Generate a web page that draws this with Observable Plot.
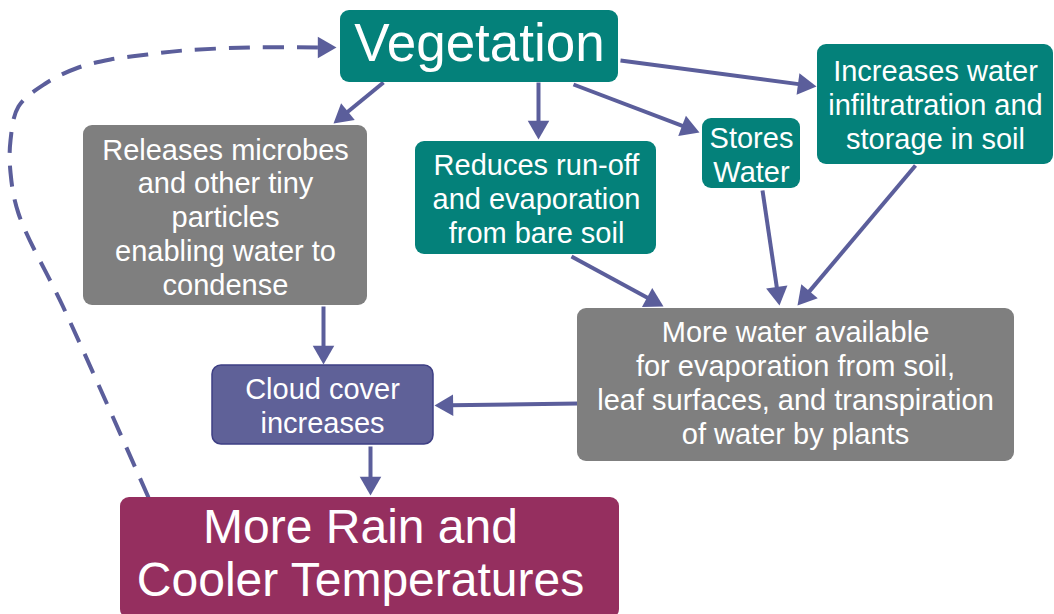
<!DOCTYPE html>
<html>
<head>
<meta charset="utf-8">
<script src="https://cdn.jsdelivr.net/npm/d3@7"></script>
<script src="https://cdn.jsdelivr.net/npm/@observablehq/plot@0.6"></script>
<style>
  html, body { margin: 0; padding: 0; background: #ffffff; }
</style>
</head>
<body>
<div id="chart"></div>
<script>
// ---- Diagram content ----
const nodeIds = ["veg", "microbes", "runoff", "stores", "infil", "morewater", "cloud", "rain"];
const nodeLabels = [
  "Vegetation",
  "Releases microbes\nand other tiny\nparticles\nenabling water to\ncondense",
  "Reduces run-off\nand evaporation\nfrom bare soil",
  "Stores\nWater",
  "Increases water\ninfiltratration and\nstorage in soil",
  "More water available\nfor evaporation from soil,\nleaf surfaces, and transpiration\nof water by plants",
  "Cloud cover\nincreases",
  "More Rain and\nCooler Temperatures"
];
const nodeKinds = ["green", "grey", "green", "green", "green", "grey", "cloud", "rain"];
// box extents [x1, x2, y1, y2] in picture units
const nodeBoxes = [
  [340, 618, 10, 82],
  [83, 367, 125, 305],
  [415, 656, 141, 254],
  [702, 800, 118, 188],
  [817, 1053, 44, 164],
  [577, 1014, 308, 461],
  [212, 433, 365, 444],
  [120, 619, 497, 618]
];
// text centres [x, y]
const labelCentres = [
  [479, 44], [225, 216], [536, 198], [751, 154], [935, 104], [795, 382], [322, 405], [360, 552]
];
// solid links: [from x, from y, tip x, tip y]
const linkFrom = ["veg", "veg", "veg", "veg", "microbes", "cloud", "runoff", "stores", "infil", "morewater"];
const linkTo   = ["microbes", "runoff", "stores", "infil", "cloud", "rain", "morewater", "morewater", "morewater", "cloud"];
const linkPts = [
  [383, 82, 333, 123],
  [538, 82, 538, 139],
  [573, 84, 699, 132],
  [620, 60, 816, 86],
  [323, 306, 323, 364],
  [370, 446, 370, 495],
  [571, 256, 663, 306],
  [762, 190, 779, 305],
  [915, 165, 797, 305],
  [578, 403, 434, 405]
];
// dashed feedback loop from rain back to vegetation
const feedbackPts = [
  [148, 497], [105, 400], [62, 305], [18, 213], [10, 172], [10, 140], [18, 106],
  [45, 83], [78, 67], [110, 59], [147, 54], [183, 50], [250, 47], [336, 47]
];

// ---- Styles ----
const kindFill = {green: "#04817a", grey: "#7f7f7f", cloud: "#5f6198", rain: "#952f5f"};
const kindStroke = {green: "none", grey: "none", cloud: "#3e3f84", rain: "none"};
const arrowColor = "#5b5e9b";

const nodes = nodeIds.map((id, i) => ({
  id, label: nodeLabels[i], kind: nodeKinds[i],
  x1: nodeBoxes[i][0], x2: nodeBoxes[i][1], y1: nodeBoxes[i][2], y2: nodeBoxes[i][3],
  cx: labelCentres[i][0], cy: labelCentres[i][1],
  fill: kindFill[nodeKinds[i]], stroke: kindStroke[nodeKinds[i]]
}));

const headR = 8;
const headBack = 2 * Math.sqrt(Math.PI * headR * headR / (Math.sqrt(3) * 3)); // tip to centroid
function headFor(x1, y1, x2, y2) {
  const dx = x2 - x1, dy = y2 - y1, L = Math.hypot(dx, dy);
  const ux = dx / L, uy = dy / L;
  return {
    hx: x2 - ux * headBack, hy: y2 - uy * headBack,
    ex: x2 - ux * headBack * 1.3, ey: y2 - uy * headBack * 1.3,
    rot: Math.atan2(dx, -dy) * 180 / Math.PI
  };
}
const links = linkPts.map(([x1, y1, x2, y2], i) => ({from: linkFrom[i], to: linkTo[i], x1, y1, x2, y2, ...headFor(x1, y1, x2, y2)}));
const fb = feedbackPts.map(([x, y]) => ({x, y}));
const fbN = feedbackPts.length;
const fbHead = headFor(feedbackPts[fbN - 2][0], feedbackPts[fbN - 2][1], feedbackPts[fbN - 1][0], feedbackPts[fbN - 1][1]);
fb[fbN - 1] = {x: fbHead.ex, y: fbHead.ey};

const regular = "'Liberation Sans', Arial, Helvetica, sans-serif";

const chart = Plot.plot({
  width: 1054,
  height: 614,
  margin: 0,
  x: {domain: [0, 1054], range: [0, 1054], axis: null},
  y: {domain: [0, 614], range: [0, 614], axis: null},
  color: {type: "identity"},
  style: {background: "#ffffff"},
  marks: [
    Plot.line(fb, {x: "x", y: "y", curve: "catmull-rom", stroke: arrowColor, strokeWidth: 4, strokeDasharray: "21,13", strokeLinecap: "butt"}),
    Plot.dot([fbHead], {x: "hx", y: "hy", symbol: "triangle", r: headR, fill: arrowColor, stroke: "none", rotate: "rot"}),
    Plot.link(links, {x1: "x1", y1: "y1", x2: "ex", y2: "ey", stroke: arrowColor, strokeWidth: 4}),
    Plot.dot(links, {x: "hx", y: "hy", symbol: "triangle", r: headR, fill: arrowColor, stroke: "none", rotate: "rot"}),
    Plot.rect(nodes, {x1: "x1", x2: "x2", y1: "y1", y2: "y2", fill: "fill", stroke: "stroke", strokeWidth: 1.5, rx: 9}),
    Plot.text(nodes.filter(d => d.id === "veg"), {x: "cx", y: "cy", text: "label", fill: "white", fontSize: 53, fontFamily: regular}),
    Plot.text(nodes.filter(d => d.kind !== "rain" && d.id !== "veg"), {x: "cx", y: "cy", text: "label", fill: "white", fontSize: 29, lineHeight: 1.17, fontFamily: regular}),
    Plot.text(nodes.filter(d => d.kind === "rain"), {x: "cx", y: "cy", text: "label", fill: "white", fontSize: 48, lineHeight: 1.1, fontFamily: regular})
  ]
});
document.getElementById("chart").appendChild(chart);
</script>
</body>
</html>
